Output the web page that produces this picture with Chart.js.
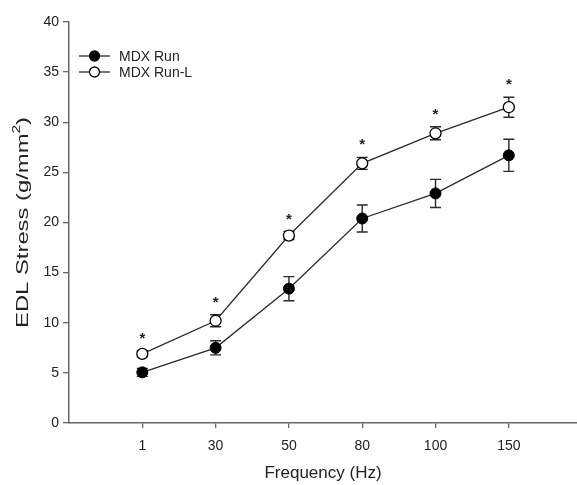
<!DOCTYPE html>
<html>
<head>
<meta charset="utf-8">
<script src="https://cdn.jsdelivr.net/npm/chart.js@4"></script>
<style>
  html, body { margin: 0; padding: 0; background: #fff; }
  #wrap { width: 577px; height: 485px; }
</style>
</head>
<body>
<div id="wrap"><canvas id="chart" width="577" height="485"></canvas></div>
<script>
const freqLabels = ['1', '30', '50', '80', '100', '150'];
const runMean  = [5.05, 7.5, 13.4, 20.4, 22.9, 26.7];
const runErr   = [0.4, 0.7, 1.2, 1.35, 1.4, 1.6];
const runLMean = [6.9, 10.2, 18.7, 25.9, 28.9, 31.5];
const runLErr  = [0.3, 0.6, 0.4, 0.6, 0.65, 1.0];
const signif   = [true, true, true, true, true, true];

const FONT = "'Liberation Sans', Arial, sans-serif";
const AXIS = '#666';
const LINE = '#2a2a2a';

const pts = arr => arr.map((v, i) => ({x: i + 1, y: v}));

const extras = {
    id: 'extras',
    beforeDatasetsDraw(chart) {
        const {ctx, scales: {x, y}} = chart;
        const sets = [[runMean, runErr], [runLMean, runLErr]];
        ctx.save();
        ctx.strokeStyle = LINE;
        ctx.lineWidth = 1.4;
        sets.forEach(([m, e]) => {
            m.forEach((v, i) => {
                const px = x.getPixelForValue(i + 1);
                const top = y.getPixelForValue(v + e[i]);
                const bot = y.getPixelForValue(v - e[i]);
                ctx.beginPath();
                ctx.moveTo(px, top); ctx.lineTo(px, bot);
                ctx.moveTo(px - 5.5, top); ctx.lineTo(px + 5.5, top);
                ctx.moveTo(px - 5.5, bot); ctx.lineTo(px + 5.5, bot);
                ctx.stroke();
            });
        });
        ctx.restore();
    },
    afterDatasetsDraw(chart) {
        const {ctx, scales: {x, y}} = chart;
        ctx.save();
        // significance stars
        ctx.fillStyle = '#222';
        ctx.font = 'bold 15px ' + FONT;
        ctx.textAlign = 'center';
        ctx.textBaseline = 'alphabetic';
        signif.forEach((s, i) => {
            if (!s) return;
            const px = x.getPixelForValue(i + 1);
            const top = y.getPixelForValue(runLMean[i] + runLErr[i]);
            ctx.fillText('*', px, top - 8);
        });
        // legend
        const items = [['MDX Run', '#000'], ['MDX Run-L', '#fff']];
        ctx.font = '14px ' + FONT;
        ctx.textAlign = 'left';
        ctx.textBaseline = 'middle';
        items.forEach(([label, fill], k) => {
            const ly = 56 + k * 16;
            ctx.strokeStyle = LINE;
            ctx.lineWidth = 1.3;
            ctx.beginPath();
            ctx.moveTo(79, ly); ctx.lineTo(110, ly);
            ctx.stroke();
            ctx.beginPath();
            ctx.arc(94.5, ly, 5, 0, Math.PI * 2);
            ctx.fillStyle = fill;
            ctx.fill();
            ctx.strokeStyle = '#000';
            ctx.stroke();
            ctx.fillStyle = '#222';
            ctx.fillText(label, 119, ly + 1);
        });
        // y axis title (wide lettering as in the original)
        const ca = chart.chartArea;
        ctx.translate(23, (ca.top + ca.bottom) / 2);
        ctx.rotate(-Math.PI / 2);
        ctx.scale(1.4, 1);
        ctx.font = '17px ' + FONT;
        ctx.textBaseline = 'middle';
        const main = 'EDL Stress (g/mm';
        const wMain = ctx.measureText(main).width;
        ctx.font = '11px ' + FONT;
        const wSup = ctx.measureText('2').width;
        ctx.font = '17px ' + FONT;
        const wEnd = ctx.measureText(')').width;
        const x0 = -(wMain + wSup + wEnd) / 2;
        ctx.textAlign = 'left';
        ctx.fillText(main, x0, 0);
        ctx.font = '11px ' + FONT;
        ctx.fillText('2', x0 + wMain, -6);
        ctx.font = '17px ' + FONT;
        ctx.fillText(')', x0 + wMain + wSup, 0);
        ctx.restore();
    }
};

new Chart(document.getElementById('chart'), {
    type: 'line',
    data: {
        datasets: [
            {label: 'MDX Run', data: pts(runMean), borderColor: LINE, borderWidth: 1.3,
             pointRadius: 5.5, pointBackgroundColor: '#000', pointBorderColor: '#000', pointBorderWidth: 1},
            {label: 'MDX Run-L', data: pts(runLMean), borderColor: LINE, borderWidth: 1.3,
             pointRadius: 5.5, pointBackgroundColor: '#fff', pointBorderColor: '#000', pointBorderWidth: 1.3}
        ]
    },
    options: {
        responsive: false,
        animation: false,
        layout: {autoPadding: false, padding: {top: 22, right: 0, left: 0, bottom: 0}},
        plugins: {legend: {display: false}, tooltip: {enabled: false}},
        scales: {
            x: {
                type: 'linear', min: 0, max: 6.93,
                afterBuildTicks: s => { s.ticks = [1, 2, 3, 4, 5, 6].map(v => ({value: v})); },
                afterFit: s => { s.height = 62; },
                grid: {display: true, drawOnChartArea: false, drawTicks: true, tickLength: 5, color: AXIS, lineWidth: 1.3},
                border: {display: true, color: AXIS, width: 1.5},
                ticks: {callback: v => freqLabels[v - 1] ?? '', color: '#222', font: {family: FONT, size: 14}, padding: 10, maxRotation: 0},
                title: {display: true, text: 'Frequency (Hz)', color: '#222', font: {family: FONT, size: 17}, padding: {top: 0, bottom: 1}}
            },
            y: {
                min: 0, max: 40,
                afterFit: s => { s.width = 69; },
                grid: {display: true, drawOnChartArea: false, drawTicks: true, tickLength: 6, color: AXIS, lineWidth: 1.3},
                border: {display: true, color: AXIS, width: 1.5},
                ticks: {stepSize: 5, color: '#222', font: {family: FONT, size: 14}, padding: 4}
            }
        }
    },
    plugins: [extras]
});
</script>
</body>
</html>
